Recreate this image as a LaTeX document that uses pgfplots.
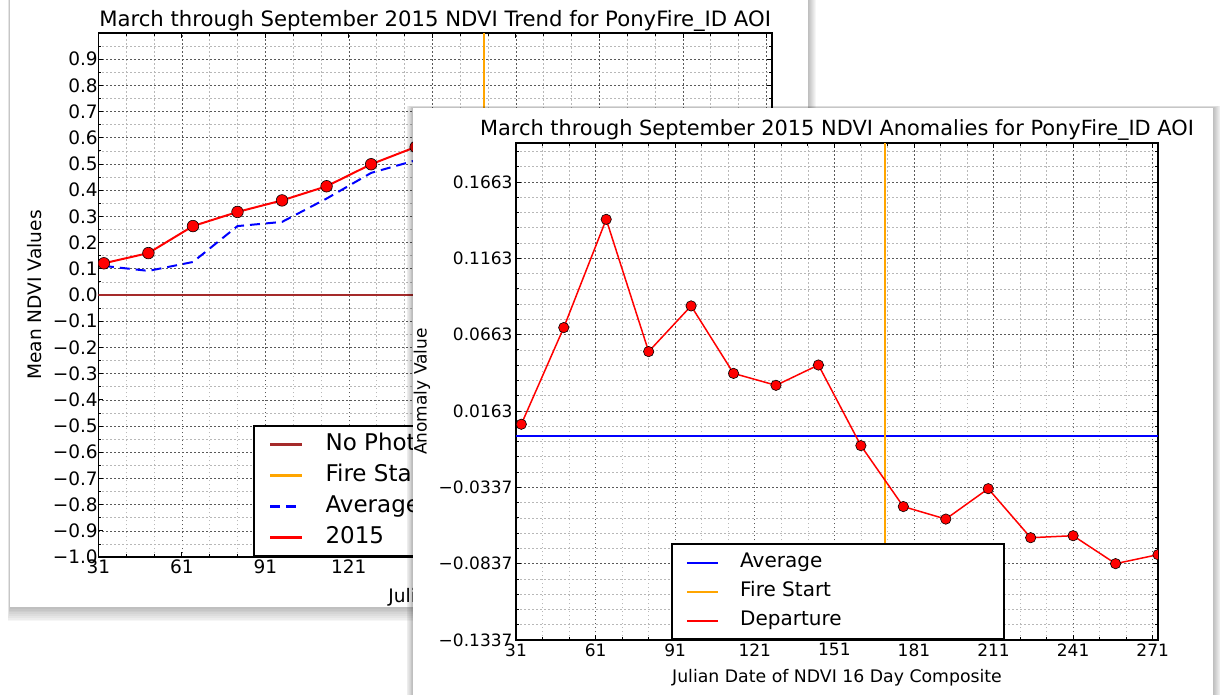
\documentclass[border=0pt]{standalone}
\usepackage{fontspec}
\setmainfont{DejaVu Sans}
\usepackage{pgfplots}
\usepackage{pgfplotstable}
\pgfplotsset{compat=1.18}

\definecolor{nophoto}{RGB}{165,42,42}
\definecolor{fireorange}{RGB}{255,165,0}
\definecolor{mplred}{RGB}{255,0,0}
\definecolor{mplblue}{RGB}{0,0,255}

\pgfplotstableread{
x y
33 0.121
49 0.160
65 0.263
81 0.317
97 0.361
113 0.415
129 0.499
145 0.565
}\trendyear

\pgfplotstableread{
x y
33 0.111
49 0.092
65 0.126
81 0.263
97 0.279
113 0.368
129 0.466
145 0.514
}\trendavg

\pgfplotstableread{
x y
33 0.0076
49 0.0709
65 0.1418
81 0.0552
97 0.0851
113 0.0409
129 0.0331
145 0.0464
161 -0.0064
177 -0.0463
193 -0.0545
209 -0.0346
225 -0.0667
241 -0.0654
257 -0.0837
273 -0.0778
}\anomaly

\pgfplotsset{
  mplstyle/.style={
    scale only axis, anchor=south west,
    clip mode=individual,
    axis line style={line width=1.5pt},
    tick align=inside, tick pos=both,
    major tick length=5pt, minor tick length=3pt,
    tick style={black, line width=0.8pt},
    grid=both,
    major grid style={black!65, line width=0.6pt, dash pattern=on 1.5pt off 2.5pt},
    minor grid style={black!28, line width=0.6pt, dash pattern=on 1.5pt off 2.5pt},
    clip marker paths=true,
    legend cell align=left,
  }
}

\begin{document}
\begin{tikzpicture}
\path[use as bounding box] (0pt,0pt) rectangle (1220pt,694pt);

% ---------- back window ----------
\foreach \i in {1,...,8} {
  \fill[black, opacity=0.035] ({10pt-0.3pt*\i},{87pt-1.8pt*\i}) rectangle ({808pt+1pt*\i},{700pt});
}
\fill[white] (10pt,87pt) rectangle (808pt,700pt);

\begin{axis}[mplstyle,
  at={(98.3pt,137pt)}, width=673.7pt, height=524pt,
  xmin=31, xmax=273, ymin=-1, ymax=1,
  xtick={31,61,91,121,151,181,211,241,271},
  xticklabels={31,61,91,121,,,,,},
  minor xtick={41,51,...,271},
  ytick={-1,-0.9,-0.8,-0.7,-0.6,-0.5,-0.4,-0.3,-0.2,-0.1,0,0.1,0.2,0.3,0.4,0.5,0.6,0.7,0.8,0.9},
  yticklabels={−1.0,−0.9,−0.8,−0.7,−0.6,−0.5,−0.4,−0.3,−0.2,−0.1,0.0,0.1,0.2,0.3,0.4,0.5,0.6,0.7,0.8,0.9},
  minor ytick={-0.95,-0.85,...,0.96},
  tick label style={font=\fontsize{18.5}{20}\selectfont},
  yticklabel style={xshift=3pt},
  xticklabel style={yshift=1pt},
  legend style={at={(0.2296,0)}, anchor=south west, draw=black, line width=1.6pt,
    inner xsep=15pt, inner ysep=7pt, font=\fontsize{23}{26}\selectfont, row sep=8pt,
    nodes={inner sep=0pt, text height=17pt, text depth=6pt},
    /tikz/every odd column/.append style={column sep=22pt}},
  legend image code/.code={\draw[#1, line width=2.8pt] (0pt,0pt) -- (32pt,0pt);},
]
\addplot[nophoto, line width=2.5pt] coordinates {(31,0) (273,0)};
\addlegendentry{\makebox[300pt][l]{No Photosynthetic Activity}}
\addplot[fireorange, line width=2pt] coordinates {(169.5,-1) (169.5,1)};
\addlegendentry{\makebox[300pt][l]{Fire Start}}
\addplot[mplblue, line width=2pt, dash pattern=on 10pt off 6pt] table[x=x,y=y] {\trendavg};
\addlegendentry{\makebox[300pt][l]{Average}}
\addplot[mplred, line width=2pt, mark=*, mark size=5.8pt, mark options={fill=mplred, draw=black, line width=0.6pt, solid}] table[x=x,y=y] {\trendyear};
\addlegendentry{\makebox[300pt][l]{2015}}
\node[anchor=base, font=\fontsize{21.2}{24}\selectfont] at ([yshift=6.5pt]rel axis cs:0.5,1) {March through September 2015 NDVI Trend for PonyFire\_ID AOI};
\node[anchor=base, rotate=90, font=\fontsize{18.6}{21}\selectfont] at ([xshift=-56.8pt]rel axis cs:0,0.5) {Mean NDVI Values};
\node[anchor=base, font=\fontsize{18.6}{21}\selectfont] at ([yshift=-45pt]rel axis cs:0.5,0) {Julian Day};
\end{axis}

% ---------- front window ----------
\foreach \i in {1,...,8} {
  \fill[black, opacity=0.035] ({413pt-0.8pt*\i},{-10pt}) rectangle ({1213pt+1pt*\i},{586pt+0.3pt*\i});
}
\fill[white] (413pt,-10pt) rectangle (1213pt,586pt);

\begin{axis}[mplstyle,
  at={(516pt,54pt)}, width=642pt, height=497pt,
  xmin=31, xmax=273, ymin=-0.1337, ymax=0.1918,
  xtick={31,61,91,121,151,181,211,241,271},
  xticklabels={31,61,91,121,151,181,211,241,271},
  minor xtick={41,51,...,271},
  ytick={-0.1337,-0.0837,-0.0337,0.0163,0.0663,0.1163,0.1663},
  yticklabels={−0.1337,−0.0837,−0.0337,0.0163,0.0663,0.1163,0.1663},
  minor ytick={-0.1237,-0.1137,...,0.19},
  tick label style={font=\fontsize{17}{19}\selectfont},
  legend style={at={(0.2414,0)}, anchor=south west, draw=black, line width=1.6pt,
    inner xsep=14pt, inner ysep=8.5pt, font=\fontsize{20}{24}\selectfont, row sep=9pt,
    nodes={inner sep=0pt, text height=15pt, text depth=5pt},
    /tikz/every odd column/.append style={column sep=21pt}},
  legend image code/.code={\draw[#1, line width=2.4pt] (0pt,0pt) -- (31pt,0pt);},
]
\addplot[mplblue, line width=2.2pt] coordinates {(31,0) (273,0)};
\addlegendentry{\makebox[250pt][l]{Average}}
\addplot[fireorange, line width=1.8pt] coordinates {(170,-0.1337) (170,0.1918)};
\addlegendentry{\makebox[250pt][l]{Fire Start}}
\addplot[mplred, line width=1.5pt, mark=*, mark size=5.2pt, mark options={fill=mplred, draw=black, line width=0.6pt}] table[x=x,y=y] {\anomaly};
\addlegendentry{\makebox[250pt][l]{Departure}}
\node[anchor=base, font=\fontsize{20.9}{24}\selectfont] at ([yshift=7pt]rel axis cs:0.5,1) {March through September 2015 NDVI Anomalies for PonyFire\_ID AOI};
\node[anchor=base, rotate=90, font=\fontsize{17}{19}\selectfont] at ([xshift=-89.5pt]rel axis cs:0,0.5) {Anomaly Value};
\node[anchor=base, font=\fontsize{17.3}{19}\selectfont] at ([yshift=-42pt]rel axis cs:0.5,0) {Julian Date of NDVI 16 Day Composite};
\end{axis}
\end{tikzpicture}
\end{document}
